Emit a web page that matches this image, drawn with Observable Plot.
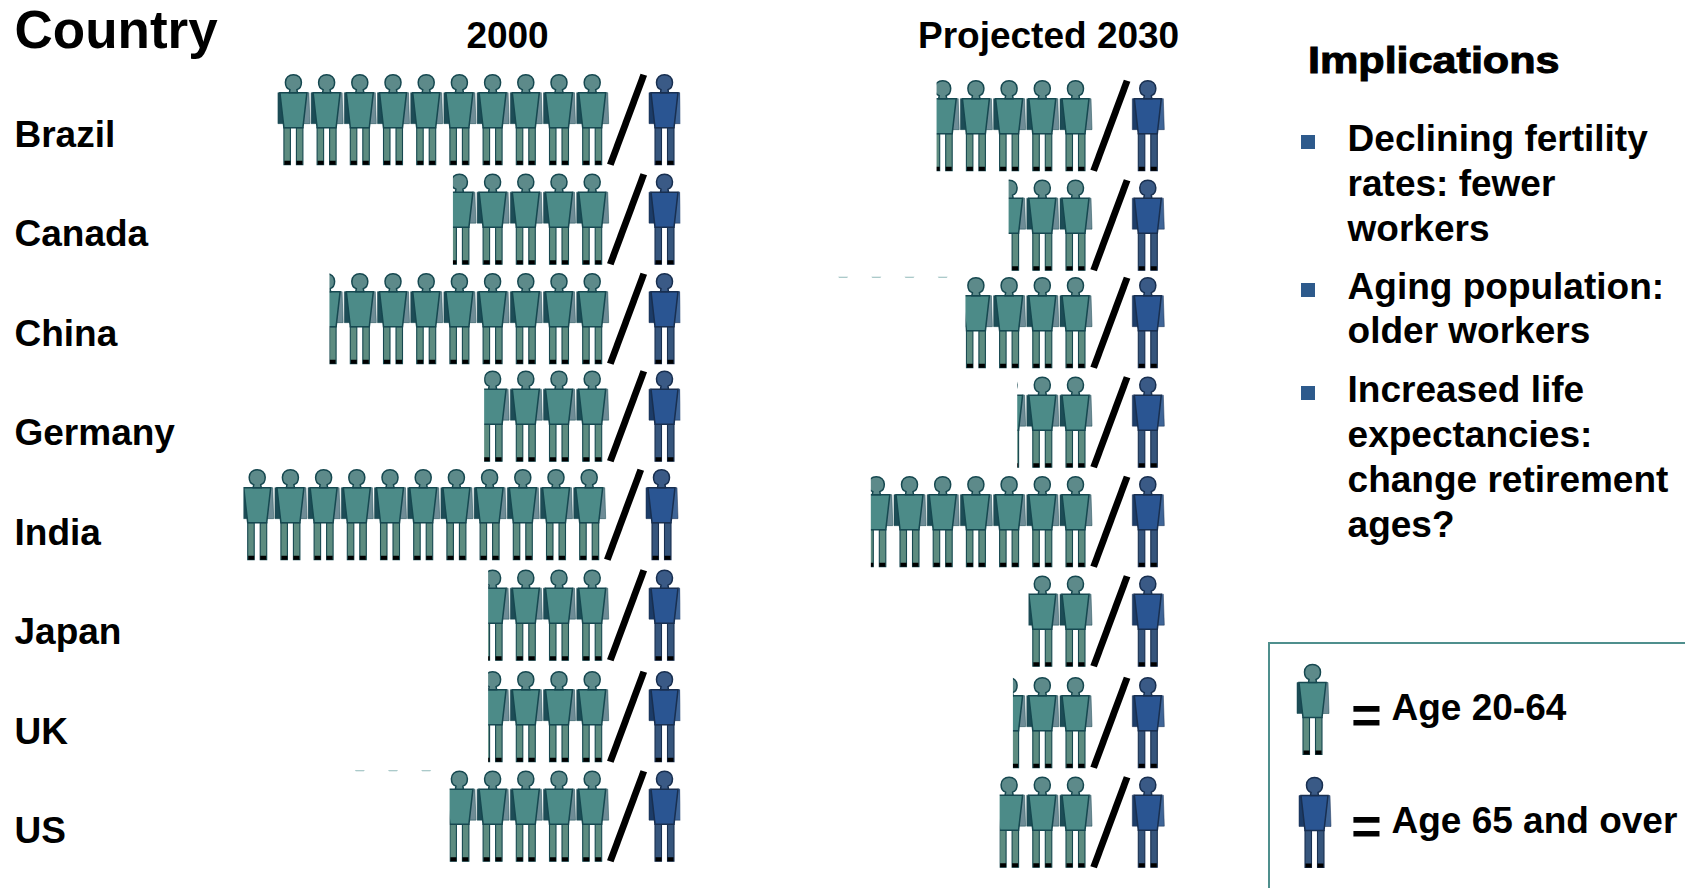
<!DOCTYPE html>
<html><head><meta charset="utf-8">
<script src="https://cdn.jsdelivr.net/npm/d3@7"></script>
<script src="https://cdn.jsdelivr.net/npm/@observablehq/plot@0.6"></script>
<style>
html,body{margin:0;padding:0;background:#fff;width:1685px;height:888px;overflow:hidden}
body{position:relative;font-family:"Liberation Sans",Arial,sans-serif;font-weight:700;color:#000}
.abs{position:absolute;white-space:nowrap;line-height:1;transform:translateY(-50%)}
svg{position:absolute;left:0;top:0;overflow:visible;background:transparent}
</style></head><body>
<script>
const countries = ["Brazil","Canada","China","Germany","India","Japan","UK","US"];
const periods = ["2000","Projected 2030"];
const workers2000 = [10, 4.68, 8.4, 3.74, 10.9, 3.62, 3.62, 4.78];
const workers2030 = [4.67, 2.5, 3.8, 2.24, 6.65, 1.9, 2.37, 2.77];
const headingImplications = "Implications";
const bullets = [
  ["Declining fertility","rates: fewer","workers"],
  ["Aging population:","older workers"],
  ["Increased life","expectancies:","change retirement","ages?"]
];
const legendLabels = ["Age 20-64","Age 65 and over"];
// small row misalignments in the source image, [dx, dy] in pixels
const rowNudge = {
  "2000|Germany":[0,-2], "2000|India":[-3,-3], "2000|Japan":[0,-2],
  "Projected 2030|China":[0,-2], "Projected 2030|Germany":[0,-2],
  "Projected 2030|India":[0,-2], "Projected 2030|Japan":[0,-2]
};
// slivers of clipped heads left behind in the source image
const remnants = [
  {period:"Projected 2030",country:"China",k:[4,5,6,7]},
  {period:"2000",country:"US",k:[5,6,7]}
];

const palette = {
  worker:{torso:"#4c8b88",legs:"#5d8c80",head:"#5d8a8a",armL:"#1d4c56",armR:"#6e8c96",line:"#164850"},
  elder:{torso:"#2a5592",legs:"#36557c",head:"#3a5a86",armL:"#1c3c68",armR:"#3f6597",line:"#182f50"}
};

// person glyph parts, as custom symbols in a unit where r = 45 means 1:1 pixels
const unit = size => Math.sqrt(size/Math.PI)/45;
function multi(list){return {draw(c,size){const s=unit(size);list.forEach(pts=>{pts.forEach(([x,y],i)=>i?c.lineTo(x*s,y*s):c.moveTo(x*s,y*s));c.closePath();});}};}
const armLSym = multi([[[-15.5,-27],[-15.5,4],[-9.5,4],[-13,-27]]]);
const armRSym = multi([[[15.5,-27],[16.5,4],[9.5,4],[13,-27]]]);
const torsoSym = multi([[[-13.5,-27],[13.5,-27],[9.5,8],[-9.5,8]]]);
const legsSym = multi([[[-9.5,8],[-3,8],[-3,45],[-9.5,45]],[[9.5,8],[3,8],[3,45],[9.5,45]]]);
const feetSym = multi([[[-9,41],[-3,41],[-3,45],[-9,45]],[[9,41],[3,41],[3,45],[9,45]]]);
const headSym = {draw(c,size){const s=unit(size);c.moveTo(4*s,-27*s);c.lineTo(3.5*s,-30*s);c.bezierCurveTo(6.5*s,-31*s,8*s,-34*s,8*s,-37.5*s);c.bezierCurveTo(8*s,-42*s,4.5*s,-45*s,0,-45*s);c.bezierCurveTo(-4.5*s,-45*s,-8*s,-42*s,-8*s,-37.5*s);c.bezierCurveTo(-8*s,-34*s,-6.5*s,-31*s,-3.5*s,-30*s);c.lineTo(-4*s,-27*s);c.closePath();}};
const slashSym = multi([[[-20,44],[-13.5,46],[20,-44],[13.5,-46]]]);
const sliverSym = multi([[[-5,-46],[5,-46],[4,-44.8],[-4,-44.8]]]);

const soft = "blur(0.45px)";
function personMarks(data, col, o){
  const base = {r:45, imageFilter:soft, ...o};
  return [
    Plot.dot(data,{...base,symbol:armRSym,fill:col.armR,stroke:col.line,strokeWidth:0.5}),
    Plot.dot(data,{...base,symbol:armLSym,fill:col.armL,stroke:col.line,strokeWidth:0.5}),
    Plot.dot(data,{...base,symbol:legsSym,fill:col.legs,stroke:col.line,strokeWidth:1.1}),
    Plot.dot(data,{...base,symbol:feetSym,fill:"#000",stroke:"none"}),
    Plot.dot(data,{...base,symbol:torsoSym,fill:col.torso,stroke:col.line,strokeWidth:1.5}),
    Plot.dot(data,{...base,symbol:headSym,fill:col.head,stroke:col.line,strokeWidth:1.5})
  ];
}

const rows = periods.flatMap(p=>countries.map((c,i)=>({period:p,country:c,value:(p==="2000"?workers2000:workers2030)[i]})));
const xDomain = [11.889,-2.669];
const elderPos = -2.178, slashPos = -1.05;

function rowMarks(r){
  const [dx,dy] = rowNudge[r.period+"|"+r.country] || [0,0];
  const base = r.period===periods[0] ? 0 : 6;
  const common = {fx:"period",y:"country",dx,dy:dy+base};
  const P = d3.range(Math.ceil(r.value)).reverse().map(k=>({period:r.period,country:r.country,k}));
  const R = [r];
  return [
    ...personMarks(P,palette.worker,{...common,x:"k"}),
    Plot.barX(R,{fx:"period",y:"country",dy:dy+base,x1:d=>d.value-0.5+dx/33.2*-1,x2:()=>xDomain[0],fill:"#fff"}),
    Plot.dot(R,{...common,x:()=>slashPos,r:45,symbol:slashSym,fill:"#000",imageFilter:soft}),
    ...personMarks(R,palette.elder,{...common,x:()=>elderPos})
  ];
}
const remnantData = remnants.flatMap(g=>g.k.map(k=>({period:g.period,country:g.country,k})));

const main = Plot.plot({
  width:1685,height:888,
  marginLeft:197,marginRight:521.4,marginTop:69.4,marginBottom:22.6,
  style:{background:"transparent",fontFamily:"'Liberation Sans',Arial,sans-serif"},
  x:{domain:xDomain,axis:null},
  y:{type:"band",domain:countries,padding:0,round:false,label:null},
  fx:{domain:periods,padding:0,round:false,axis:null},
  marks:[
    ...rows.flatMap(rowMarks),
    Plot.dot(remnantData.filter(d=>d.period===periods[1]),{fx:"period",y:"country",x:"k",dy:4,r:45,symbol:sliverSym,fill:"#8fb8b8"}),
    Plot.dot(remnantData.filter(d=>d.period===periods[0]),{fx:"period",y:"country",x:"k",dy:0,r:45,symbol:sliverSym,fill:"#8fb8b8"}),
    Plot.axisY({anchor:"left",tickSize:0,tickPadding:183,textAnchor:"start",fontSize:37,fontWeight:700,dy:15.5,label:null,fill:"#000"}),
    Plot.text(periods,{fx:d=>d,x:d=>d==="2000"?2.55:0.81,text:d=>d,frameAnchor:"top",dy:-48,fontSize:37,fontWeight:700,fill:"#000"}),
    Plot.text(["Country"],{fx:()=>periods[0],frameAnchor:"top-left",textAnchor:"start",dx:-183,dy:-60,text:d=>d,fontSize:53,fontWeight:700,fill:"#000"})
  ]
});
document.body.appendChild(main);

function addText(t,x,y,size,extra){
  const d=document.createElement("div");d.className="abs";d.textContent=t;
  d.style.left=x+"px";d.style.top=y+"px";d.style.fontSize=size+"px";
  if(extra)Object.assign(d.style,extra);document.body.appendChild(d);return d;
}
addText(headingImplications,1308,60,37,{transform:"translateY(-50%) scaleX(1.165)",transformOrigin:"left center",webkitTextStroke:"1px #000"});
const lineY=[[137.6,182.8,227.9],[286,330],[389,434,479,524]];
const squareY=[135,283,386];
bullets.forEach((b,i)=>{
  const sq=document.createElement("div");
  Object.assign(sq.style,{position:"absolute",left:"1301px",top:squareY[i]+"px",width:"14px",height:"14px",background:"#2d5a8c"});
  document.body.appendChild(sq);
  b.forEach((t,j)=>addText(t,1347.6,lineY[i][j],37));
});

// legend box
const box=document.createElement("div");
Object.assign(box.style,{position:"absolute",left:"1268px",top:"642px",width:"430px",height:"260px",border:"2px solid #4f8f8d",boxSizing:"border-box"});
document.body.appendChild(box);
const legendPlot = Plot.plot({
  width:417,height:246,margin:0,
  style:{background:"transparent",fontFamily:"'Liberation Sans',Arial,sans-serif",left:"1268px",top:"642px"},
  x:{type:"point",domain:["glyph"],range:[45,45],axis:null},
  y:{type:"point",domain:legendLabels,range:[67,180],padding:0,axis:null},
  marks:[
    ...personMarks(legendLabels.slice(0,1),palette.worker,{x:()=>"glyph",y:d=>d,dx:-1}),
    ...personMarks(legendLabels.slice(1),palette.elder,{x:()=>"glyph",y:d=>d,dx:1}),
    Plot.text(legendLabels.slice(0,1),{x:()=>"glyph",y:d=>d,text:d=>"=",dx:53,dy:7,textAnchor:"middle",fontSize:52,fontWeight:700,fill:"#000"}),
    Plot.text(legendLabels.slice(1),{x:()=>"glyph",y:d=>d,text:d=>"=",dx:53,dy:5,textAnchor:"middle",fontSize:52,fontWeight:700,fill:"#000"}),
    Plot.text(legendLabels,{x:()=>"glyph",y:d=>d,text:d=>d,dx:78,dy:-1,textAnchor:"start",fontSize:37,fontWeight:700,fill:"#000"})
  ]
});
document.body.appendChild(legendPlot);
</script>
</body></html>
